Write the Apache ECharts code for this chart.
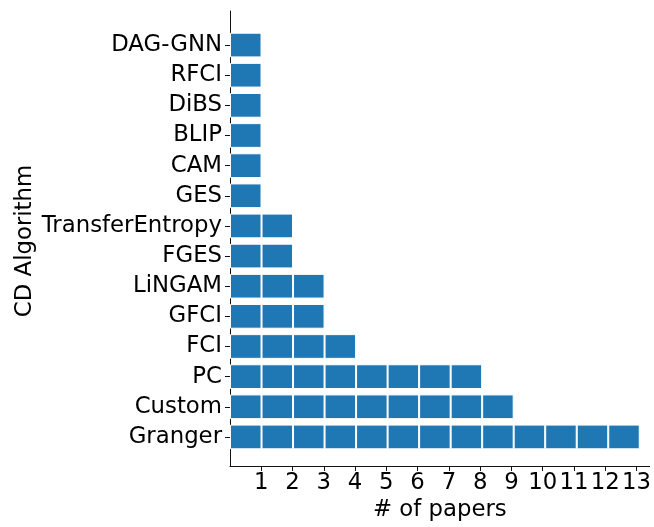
<!DOCTYPE html>
<html>
<head>
<meta charset="utf-8">
<script src="https://cdn.jsdelivr.net/npm/echarts@6/dist/echarts.min.js"></script>
<style>
  html, body { margin: 0; padding: 0; background: #fff; }
  #chart { width: 654px; height: 527px; }
</style>
</head>
<body>
<div id="chart"></div>
<script>
// bottom -> top, as in the plot
const algorithms = ['Granger', 'Custom', 'PC', 'FCI', 'GFCI', 'LiNGAM', 'FGES',
  'TransferEntropy', 'GES', 'CAM', 'BLIP', 'DiBS', 'RFCI', 'DAG-GNN']
const paperCounts = [13, 9, 8, 4, 3, 3, 2, 2, 1, 1, 1, 1, 1, 1]
const xTicks = [1, 2, 3, 4, 5, 6, 7, 8, 9, 10, 11, 12, 13]

const X_MAX = 13.42
const FONT = 'DejaVu Sans'
const FS = 22.8

// every paper is one unit block with a white edge (like matplotlib barh per paper)
const maxCount = Math.max(...paperCounts)
const series = []
for (let k = 0; k < maxCount; k++) {
  series.push({
    type: 'bar',
    stack: 'papers',
    xAxisIndex: 0,
    yAxisIndex: 0,
    barWidth: '82%',
    data: paperCounts.map(c => (c > k ? 1 : '-')),
    itemStyle: { color: '#1f77b4', borderColor: '#ffffff', borderWidth: 1 },
    silent: true
  })
}

const chart = echarts.init(document.getElementById('chart'), null, { renderer: 'canvas' })
chart.setOption({
  animation: false,
  textStyle: { fontFamily: FONT },
  grid: [
    // bars
    { left: 230, right: 1, top: 30, bottom: 75 },
    // spines / x axis
    { left: 230, right: 1, top: 11, bottom: 60 }
  ],
  xAxis: [
    { gridIndex: 0, type: 'value', min: 0, max: X_MAX, show: false },
    {
      gridIndex: 1, type: 'value', min: 0, max: X_MAX, interval: 1,
      name: '# of papers', nameLocation: 'middle', nameGap: 33, nameMoveOverlap: false,
      nameTextStyle: { fontSize: FS, color: '#000', fontFamily: FONT },
      axisLine: { show: true, lineStyle: { color: '#111', width: 1 } },
      axisTick: { show: true, length: 5, customValues: xTicks, lineStyle: { color: '#111' } },
      axisLabel: { customValues: xTicks, fontSize: FS, color: '#000', margin: 6, fontFamily: FONT },
      splitLine: { show: false }
    }
  ],
  yAxis: [
    {
      gridIndex: 0, type: 'category', data: algorithms,
      axisLine: { show: false },
      axisTick: { show: true, alignWithLabel: true, length: 5, lineStyle: { color: '#111' } },
      axisLabel: { fontSize: FS, color: '#000', margin: 8, fontFamily: FONT },
      name: 'CD Algorithm', nameLocation: 'middle', nameGap: 193, nameMoveOverlap: false,
      nameTextStyle: { fontSize: FS, color: '#000', fontFamily: FONT }
    },
    {
      gridIndex: 1, type: 'value', min: 0, max: 1,
      axisLine: { show: true, lineStyle: { color: '#111', width: 1 } },
      axisTick: { show: false }, axisLabel: { show: false }, splitLine: { show: false }
    }
  ],
  series: series
})
</script>
</body>
</html>
